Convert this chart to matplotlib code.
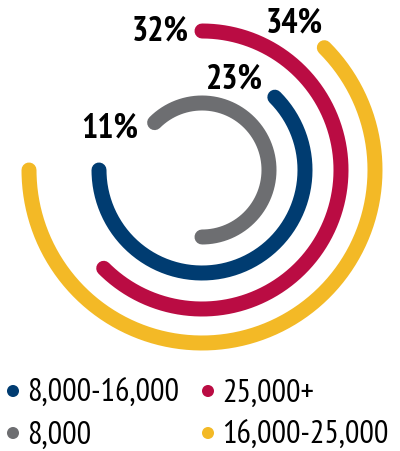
import numpy as np
import matplotlib.pyplot as plt

# data, inner ring to outer ring
groups = ['8,000', '8,000-16,000', '25,000+', '16,000-25,000']
shares = [11, 23, 32, 34]
colors = ['#6D6E71', '#003C71', '#BA0C43', '#F3B926']

# layout (pixels, y measured from the top)
cx, cy = 202, 171
radii = [67, 103, 139, 173]
start_deg = [135, 45, 90, 45]
sweep_deg = 225
label_xy = [(110, 137), (234, 88), (160, 40), (294, 32)]

# legend: column 1 blue, gray; column 2 red, yellow
legend_order = [1, 0, 2, 3]
legend_xy = [(13, 392), (13, 434), (208, 392), (208, 434)]

font = ['PT Sans Narrow', 'Liberation Sans Narrow', 'DejaVu Sans']

fig = plt.figure(figsize=(4.0, 4.52), dpi=100)
ax = fig.add_axes([0, 0, 1, 1])
ax.set_xlim(0, 400)
ax.set_ylim(452, 0)
ax.axis('off')

for r, a0, c in zip(radii, start_deg, colors):
    t = np.radians(np.linspace(a0, a0 - sweep_deg, 300))
    ax.plot(cx + r * np.cos(t), cy - r * np.sin(t), color=c, lw=10.8,
            solid_capstyle='round')

for (x, y), v in zip(label_xy, shares):
    ax.text(x, y, f'{v}%', ha='center', va='baseline', fontsize=24.5,
            fontweight='bold', family=font)

for i, (x, y) in zip(legend_order, legend_xy):
    ax.scatter([x], [y], s=75, color=colors[i], edgecolor='none')
    ax.text(x + 14, y + 10, groups[i], ha='left', va='baseline', fontsize=23.2,
            family=font)

fig.savefig('out.png', dpi=100)
